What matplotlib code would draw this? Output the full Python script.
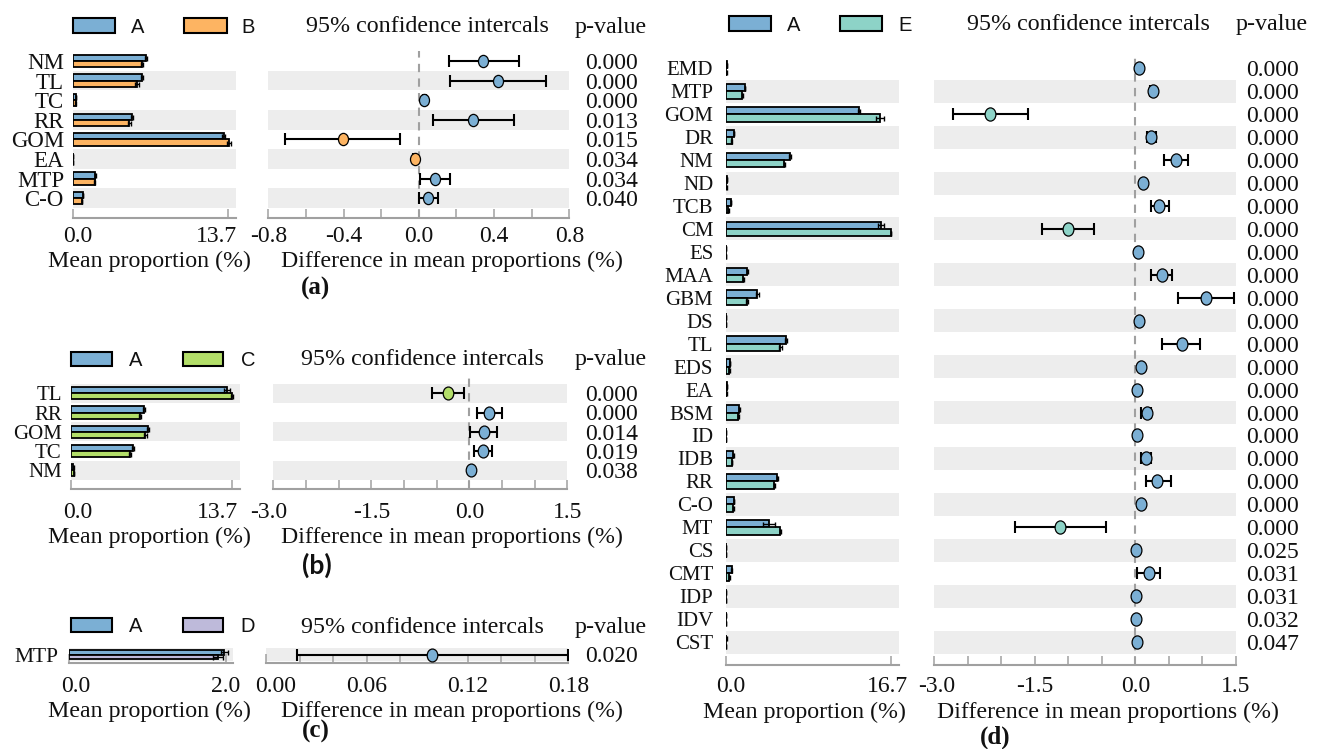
import matplotlib
matplotlib.use('Agg')
import matplotlib.pyplot as plt
import matplotlib.transforms as mtransforms
from matplotlib.patches import Rectangle
from matplotlib.path import Path
import numpy as np

# ---------------- data ----------------
a_features = ['NM', 'TL', 'TC', 'RR', 'GOM', 'EA', 'MTP', 'C-O']
a_mean_A = [6.50, 6.15, 0.27, 5.25, 13.35, 0.06, 2.00, 0.92]
a_mean_B = [6.15, 5.70, 0.25, 5.00, 13.80, 0.04, 1.95, 0.83]
a_err_A = [0.08, 0.08, 0.02, 0.08, 0.12, 0.01, 0.04, 0.03]
a_err_B = [0.10, 0.15, 0.02, 0.15, 0.20, 0.01, 0.04, 0.03]
a_diff = [0.343, 0.420, 0.030, 0.290, -0.405, -0.022, 0.088, 0.050]
a_lo = [0.160, 0.164, 0.020, 0.075, -0.710, -0.030, 0.006, 0.003]
a_hi = [0.530, 0.677, 0.040, 0.508, -0.100, -0.014, 0.164, 0.100]
a_p = ['0.000', '0.000', '0.000', '0.013', '0.015', '0.034', '0.034', '0.040']
a_ci_ticks = [-0.8, -0.6, -0.4, -0.2, 0.0, 0.2, 0.4, 0.6, 0.8]
a_ci_labvals = [-0.8, -0.4, 0.0, 0.4, 0.8]
a_ci_labels = ['-0.8', '-0.4', '0.0', '0.4', '0.8']
a_bar_max = 13.7

b_features = ['TL', 'RR', 'GOM', 'TC', 'NM']
b_mean_A = [13.27, 6.24, 6.60, 5.27, 0.23]
b_mean_C = [13.75, 5.90, 6.35, 5.05, 0.28]
b_err_A = [0.25, 0.10, 0.10, 0.08, 0.02]
b_err_C = [0.10, 0.10, 0.12, 0.08, 0.02]
b_diff = [-0.320, 0.306, 0.224, 0.204, 0.020]
b_lo = [-0.566, 0.122, 0.010, 0.070, 0.005]
b_hi = [-0.080, 0.505, 0.429, 0.350, 0.035]
b_p = ['0.000', '0.000', '0.014', '0.019', '0.038']
b_ci_ticks = [-3.0, -2.5, -2.0, -1.5, -1.0, -0.5, 0.0, 0.5, 1.0, 1.5]
b_ci_labvals = [-3.0, -1.5, 0.0, 1.5]
b_ci_labels = ['-3.0', '-1.5', '0.0', '1.5']
b_bar_max = 13.7

c_features = ['MTP']
c_mean_A = [1.98]
c_mean_D = [1.90]
c_err_A = [0.04]
c_err_D = [0.06]
c_diff = [0.099]
c_lo = [0.0187]
c_hi = [0.180]
c_p = ['0.020']
c_ci_ticks = [0.00, 0.02, 0.04, 0.06, 0.08, 0.10, 0.12, 0.14, 0.16, 0.18]
c_ci_labvals = [0.00, 0.06, 0.12, 0.18]
c_ci_labels = ['0.00', '0.06', '0.12', '0.18']
c_bar_max = 2.0

d_features = ['EMD', 'MTP', 'GOM', 'DR', 'NM', 'ND', 'TCB', 'CM', 'ES', 'MAA',
              'GBM', 'DS', 'TL', 'EDS', 'EA', 'BSM', 'ID', 'IDB', 'RR', 'C-O',
              'MT', 'CS', 'CMT', 'IDP', 'IDV', 'CST']
d_mean_A = [0.10, 1.95, 13.47, 0.84, 6.50, 0.10, 0.54, 15.70, 0.05, 2.19,
            3.20, 0.05, 6.10, 0.44, 0.10, 1.38, 0.05, 0.77, 5.22, 0.84,
            4.38, 0.05, 0.60, 0.05, 0.05, 0.08]
d_mean_E = [0.08, 1.68, 15.60, 0.60, 5.93, 0.08, 0.27, 16.70, 0.04, 1.78,
            2.19, 0.04, 5.50, 0.37, 0.08, 1.28, 0.04, 0.64, 4.92, 0.77,
            5.50, 0.04, 0.37, 0.04, 0.04, 0.07]
d_err_A = [0.01, 0.04, 0.10, 0.03, 0.08, 0.01, 0.03, 0.30, 0.01, 0.05,
           0.17, 0.01, 0.06, 0.02, 0.01, 0.04, 0.01, 0.03, 0.06, 0.03,
           0.60, 0.01, 0.04, 0.01, 0.01, 0.01]
d_err_E = [0.01, 0.04, 0.40, 0.03, 0.06, 0.01, 0.02, 0.05, 0.01, 0.05,
           0.10, 0.01, 0.15, 0.02, 0.01, 0.04, 0.01, 0.03, 0.06, 0.03,
           0.05, 0.01, 0.03, 0.01, 0.01, 0.01]
d_diff = [0.055, 0.26, -2.16, 0.24, 0.60, 0.11, 0.36, -1.00, 0.045, 0.39,
          1.05, 0.05, 0.69, 0.08, 0.03, 0.17, 0.02, 0.16, 0.33, 0.09,
          -1.12, 0.01, 0.20, 0.015, 0.015, 0.02]
d_lo = [0.045, 0.22, -2.72, 0.17, 0.42, 0.10, 0.23, -1.39, 0.035, 0.24,
        0.63, 0.04, 0.39, 0.07, 0.02, 0.09, 0.01, 0.09, 0.16, 0.08,
        -1.80, 0.005, 0.02, 0.005, 0.005, 0.01]
d_hi = [0.065, 0.30, -1.60, 0.31, 0.78, 0.12, 0.50, -0.62, 0.055, 0.54,
        1.47, 0.06, 0.96, 0.09, 0.04, 0.24, 0.03, 0.23, 0.53, 0.10,
        -0.43, 0.015, 0.37, 0.025, 0.025, 0.03]
d_p = ['0.000', '0.000', '0.000', '0.000', '0.000', '0.000', '0.000', '0.000',
       '0.000', '0.000', '0.000', '0.000', '0.000', '0.000', '0.000', '0.000',
       '0.000', '0.000', '0.000', '0.000', '0.000', '0.025', '0.031', '0.031',
       '0.032', '0.047']
d_ci_ticks = [-3.0, -2.5, -2.0, -1.5, -1.0, -0.5, 0.0, 0.5, 1.0, 1.5]
d_ci_labvals = [-3.0, -1.5, 0.0, 1.5]
d_ci_labels = ['-3.0', '-1.5', '0.0', '1.5']
d_bar_max = 16.7

# ---------------- style ----------------
W, H = 1320, 749
DPI = 100
fig = plt.figure(figsize=(W / DPI, H / DPI), dpi=DPI)
fig.patch.set_facecolor('white')

SERIF = 'Liberation Serif'
SANS = 'Liberation Sans'
TXT = '#111111'
COL_A = '#7BAFD4'
COL_B = '#FDB462'
COL_C = '#B3DE69'
COL_D = '#BEBADA'
COL_E = '#8DD3C7'
BAND = '#EDEDED'
AXC = '#A0A0A0'

_uc = Path.unit_circle()
ELL = Path(_uc.vertices * np.array([0.82, 1.0]), _uc.codes)


def fx(x):
    return x / W


def fy(y):
    return 1 - y / H


def px_axes(x0, y0, x1, y1):
    ax = fig.add_axes([fx(x0), fy(y1), (x1 - x0) / W, (y1 - y0) / H])
    ax.set_facecolor('none')
    for s in ['top', 'left', 'right']:
        ax.spines[s].set_visible(False)
    ax.spines['bottom'].set_color(AXC)
    ax.spines['bottom'].set_linewidth(1.5)
    ax.tick_params(axis='x', direction='in', length=6.5, width=1.1,
                   color=AXC, labelbottom=False)
    ax.tick_params(axis='y', length=0)
    return ax


def ftext(x, y, s, **kw):
    kw.setdefault('family', SERIF)
    kw.setdefault('color', TXT)
    fig.text(fx(x), fy(y), s, **kw)


def tick_text(ax, xval, dx, y_base, s, fs=17):
    tr = mtransforms.blended_transform_factory(ax.transData, fig.transFigure) + \
        mtransforms.ScaledTranslation(dx / DPI, 0, fig.dpi_scale_trans)
    ax.text(xval, fy(y_base), s, transform=tr, ha='center', va='baseline',
            fontsize=fs, family=SERIF, color=TXT, clip_on=False)


def panel(names, mA, mX, eA, eX, diff, lo, hi, pvals, colX, labX, g,
          bar_max, ci_ticks, ci_labvals, ci_labels):
    n = len(names)
    y0, step = g['y0'], g['step']
    ytop = -0.5 - g.get('top_extra', 0.0)
    ybot = g['ybot']
    top_px = y0 + ytop * step
    bot_px = y0 + ybot * step
    ypos = np.arange(n)
    diff = np.array(diff)
    lo = np.array(lo)
    hi = np.array(hi)

    axb = px_axes(g['bx0'], top_px, g['bx1'], bot_px)
    axb.set_xlim(0, bar_max * (g['bx1'] - g['bx0']) / (g['btick_px'] - g['bx0']))
    axb.set_ylim(ybot, ytop)
    axc = px_axes(g['cx0'], top_px, g['cx1'], bot_px)
    axc.set_xlim(ci_ticks[0], ci_ticks[-1])
    axc.set_ylim(ybot, ytop)

    for i in range(n):
        if (n - 1 - i) % 2 == 0:
            for ax in (axb, axc):
                ax.axhspan(i - 0.5, i + 0.5, color=BAND, lw=0, zorder=0)

    hb = 0.32
    ekw = dict(ecolor='black', elinewidth=1.0, capsize=1.8, capthick=1.0)
    axb.barh(ypos - hb / 2, mA, height=hb, color=COL_A, edgecolor='black',
             linewidth=1.3, xerr=eA, error_kw=ekw, zorder=2)
    axb.barh(ypos + hb / 2, mX, height=hb, color=colX, edgecolor='black',
             linewidth=1.3, xerr=eX, error_kw=ekw, zorder=2)
    axb.set_xticks([0, bar_max])
    axb.set_yticks(ypos)
    axb.set_yticklabels(names, fontsize=g['rfs'], family=SERIF, color=TXT)
    axb.tick_params(axis='y', pad=g['rpad'])
    tick_text(axb, 0, g['b0dx'], g['tick_base'], '0.0')
    tick_text(axb, bar_max, g['bmdx'], g['tick_base'], f'{bar_max:.1f}')

    axc.set_xticks(ci_ticks)
    axc.set_yticks([])
    for k, (v, s) in enumerate(zip(ci_labvals, ci_labels)):
        tick_text(axc, v, g['c0dx'] if k == 0 else 0, g['tick_base'], s)

    if ci_ticks[0] < 0:
        axc.plot([0, 0], [ybot, ytop], color=AXC, lw=1.5, ls=(0, (4, 3)),
                 zorder=1, clip_on=False)
    axc.errorbar(diff, ypos, xerr=[diff - lo, hi - diff], fmt='none',
                 ecolor='black', elinewidth=1.5, capsize=g['cap'],
                 capthick=1.5, zorder=3)
    for i in range(n):
        c = COL_A if diff[i] > 0 else colX
        axc.plot([diff[i]], [i], marker=ELL, ms=g['ms'], mfc=c, mec='black',
                 mew=0.9, ls='none', zorder=4, clip_on=False)

    pfs = 17.0
    for i in range(n):
        yb = y0 + i * step + 0.338 * pfs * DPI / 72
        ftext(g['px'], yb, pvals[i], ha='center', va='baseline', fontsize=pfs)

    # headers
    ftext(g['title_x'], g['head_base'], '95% confidence intercals',
          ha='center', va='baseline', fontsize=17.3)
    ftext(g['pv_x'], g['head_base'], 'p-value', ha='center', va='baseline',
          fontsize=17.3)
    # legend
    ly0, ly1 = g['leg_y']
    for (x0, x1), col, lab, lx in [(g['legA'], COL_A, 'A', g['legA_t']),
                                   (g['legX'], colX, labX, g['legX_t'])]:
        fig.add_artist(Rectangle((fx(x0), fy(ly1)), (x1 - x0) / W,
                                 (ly1 - ly0) / H, transform=fig.transFigure,
                                 facecolor=col, edgecolor='black', lw=1.5))
        ftext(lx, ly1, lab, family=SANS, fontsize=14.5, ha='center',
              va='baseline')
    # axis labels
    ftext(g['mean_x'], g['lab_base'], 'Mean proportion (%)', ha='center',
          va='baseline', fontsize=17.2)
    ftext(g['diff_x'], g['lab_base'], 'Difference in mean proportions (%)',
          ha='center', va='baseline', fontsize=17.2)
    pl = g['plab']
    ftext(pl[0], pl[1], pl[2], ha='center', va='baseline', fontsize=pl[3],
          fontweight='bold', family=pl[4])


ga = dict(y0=61, step=19.6, ybot=8, top_extra=0.0,
          bx0=72.7, bx1=236, btick_px=227.7, cx0=268.3, cx1=569.3,
          rfs=16.5, rpad=6.3, cap=4.5, ms=8.8, px=612,
          b0dx=5.3, bmdx=-11.7, c0dx=0, tick_base=241.5,
          title_x=427, pv_x=611, head_base=32.5,
          leg_y=(18.3, 33.3), legA=(72.7, 115), legX=(184.3, 226.7),
          legA_t=137.5, legX_t=248,
          mean_x=149, diff_x=452, lab_base=267,
          plab=(315, 295, '(a)', 18, SERIF))
gb = dict(y0=393.3, step=19.2, ybot=5, top_extra=0.57,
          bx0=70.7, bx1=240, btick_px=231.7, cx0=273.3, cx1=567.3,
          rfs=15, rpad=6.5, cap=4.5, ms=9.3, px=612,
          b0dx=7.3, bmdx=-14.2, c0dx=-5, tick_base=518.3,
          title_x=422, pv_x=611, head_base=365,
          leg_y=(351.7, 365.7), legA=(70.7, 111.7), legX=(182.7, 223.3),
          legA_t=136, legX_t=248,
          mean_x=149, diff_x=452, lab_base=543.3,
          plab=(317, 573.3, '(b)', 19, 'Lato'))
gc = dict(y0=654.5, step=13, ybot=0.65, top_extra=0.0,
          bx0=69, bx1=233, btick_px=226, cx0=266, cx1=568.3,
          rfs=15.5, rpad=7.7, cap=4.2, ms=9.3, px=612,
          b0dx=7, bmdx=0, c0dx=10, tick_base=691.7,
          title_x=422, pv_x=611, head_base=633,
          leg_y=(618.3, 631.7), legA=(70.7, 111.7), legX=(182.7, 223.3),
          legA_t=136, legX_t=248,
          mean_x=149, diff_x=452, lab_base=716.7,
          plab=(316, 738, '(c)', 18, SERIF))
gd = dict(y0=68.3, step=22.95, ybot=26, top_extra=0.0,
          bx0=725.7, bx1=899.3, btick_px=891, cx0=934, cx1=1236,
          rfs=15, rpad=9, cap=4.3, ms=9.5, px=1272.5,
          b0dx=5.3, bmdx=-3.5, c0dx=2.7, tick_base=691.7,
          title_x=1088, pv_x=1271.5, head_base=30,
          leg_y=(16, 30.7), legA=(729.3, 771), legX=(840, 881.7),
          legA_t=794, legX_t=905,
          mean_x=804, diff_x=1107.5, lab_base=718.3,
          plab=(995.5, 743.3, '(d)', 18, SERIF))

panel(a_features, a_mean_A, a_mean_B, a_err_A, a_err_B, a_diff, a_lo, a_hi,
      a_p, COL_B, 'B', ga, a_bar_max, a_ci_ticks, a_ci_labvals, a_ci_labels)
panel(b_features, b_mean_A, b_mean_C, b_err_A, b_err_C, b_diff, b_lo, b_hi,
      b_p, COL_C, 'C', gb, b_bar_max, b_ci_ticks, b_ci_labvals, b_ci_labels)
panel(c_features, c_mean_A, c_mean_D, c_err_A, c_err_D, c_diff, c_lo, c_hi,
      c_p, COL_D, 'D', gc, c_bar_max, c_ci_ticks, c_ci_labvals, c_ci_labels)
panel(d_features, d_mean_A, d_mean_E, d_err_A, d_err_E, d_diff, d_lo, d_hi,
      d_p, COL_E, 'E', gd, d_bar_max, d_ci_ticks, d_ci_labvals, d_ci_labels)

fig.savefig('out.png', dpi=DPI, facecolor='white')
